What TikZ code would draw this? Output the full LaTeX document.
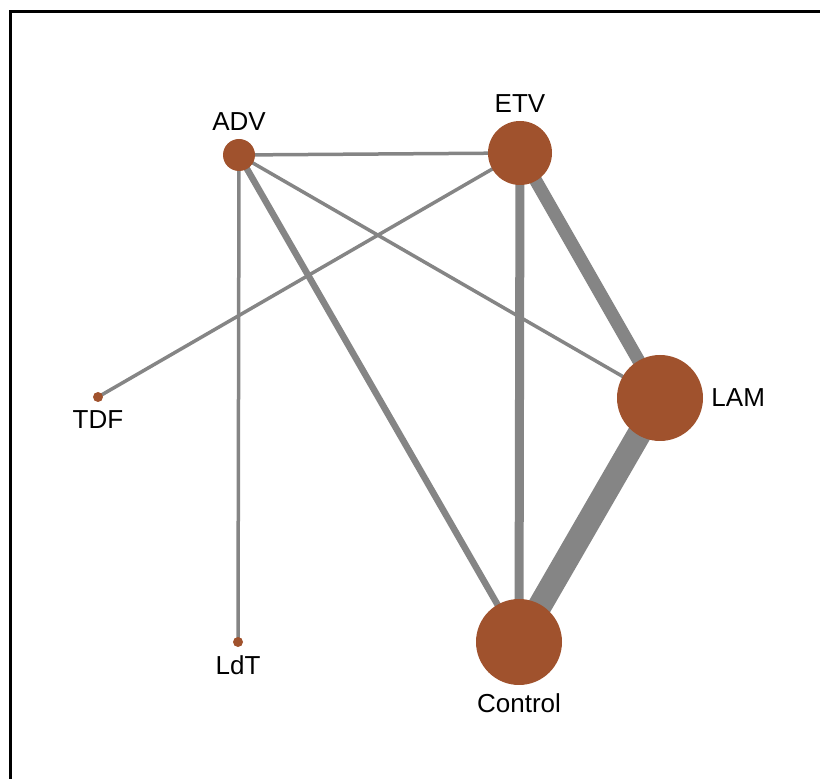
\documentclass[tikz,border=0pt]{standalone}
\usepackage{fontspec}
\setmainfont{Liberation Sans}
\usetikzlibrary{backgrounds}

\begin{document}
\begin{tikzpicture}[ x=0.5pt, y=-0.5pt, drug/.style={
          fill=drugcol, circle, inner sep=0pt },
        link/.style={ draw=linkcol, line width=1.75pt },
        every label/.style={ font=\fontsize{13}{15}\selectfont },
        label distance=0.5pt ]
        \definecolor{drugcol}{HTML}{A0522D}
        \definecolor{linkcol}{HTML}{858585}
        \useasboundingbox (0,0) rectangle (820,779);
        \draw[line width=1.5pt] (10,12) rectangle (840,800);

        \foreach \n/\x/\y/\s/\p in {ADV/239/155/16pt/above,
        ETV/520/153/32pt/above, TDF/98/397/5pt/below,
        LdT/238/642/5pt/below, LAM/660/398/43pt/right,
        Control/519/642/43pt/below}
        \node[drug,minimum size=\s,label=\p:\n] (\n) at (\x,\y) {};

        \begin{scope}[on background layer]
        \draw[link] (ADV.center) -- (ETV.center); \draw[link]
        (ADV.center) -- (LAM.center); \draw[link] (ADV.center) --
        (LdT.center); \draw[link] (ETV.center) -- (TDF.center);
        \draw[link,line width=3.25pt] (ADV.center) -- (Control.center);
        \draw[link,line width=4.5pt] (ETV.center) -- (Control.center);
        \draw[link,line width=6.5pt] (ETV.center) -- (LAM.center);
        \draw[link,line width=12pt] (LAM.center) -- (Control.center);
        \end{scope}
      \end{tikzpicture}
\end{document}
